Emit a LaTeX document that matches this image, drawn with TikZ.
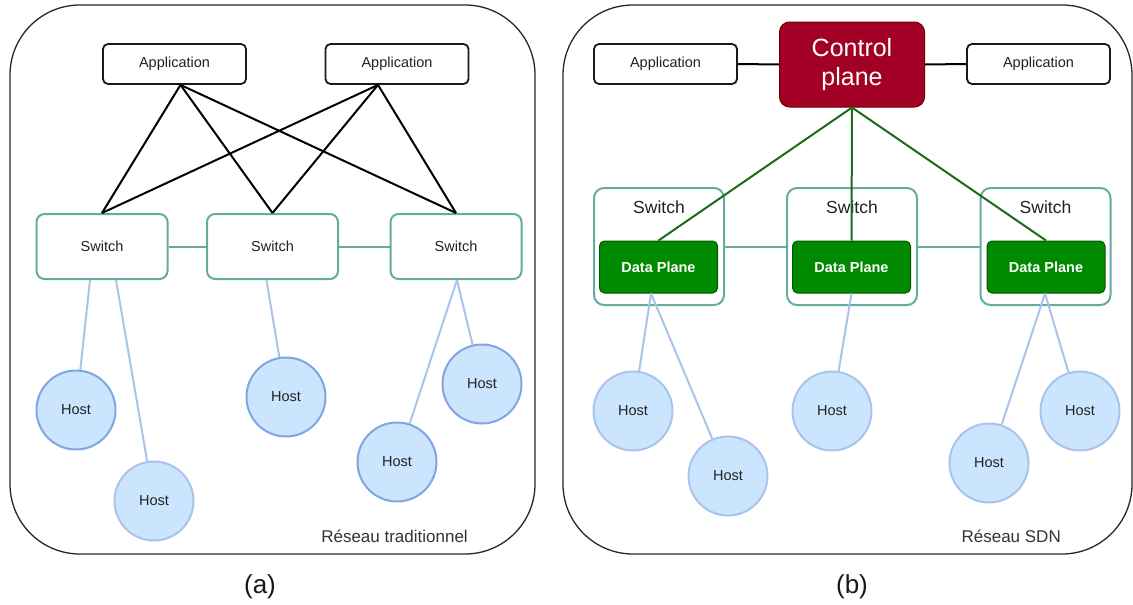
\documentclass[tikz,border=0pt]{standalone}
\usepackage{fontspec}
\setmainfont{Liberation Sans}
\definecolor{swteal}{HTML}{67AB9F}
\definecolor{hostfill}{HTML}{CCE5FF}
\definecolor{hostedge}{HTML}{7EA6E0}
\definecolor{hostlight}{HTML}{A9C4EB}
\definecolor{cpfill}{HTML}{A20025}
\definecolor{cpedge}{HTML}{6F0000}
\definecolor{dpfill}{HTML}{008A00}
\definecolor{dpedge}{HTML}{005700}
\definecolor{ctrlgreen}{HTML}{1B6B1B}
\definecolor{txt}{HTML}{222222}
\begin{document}
\begin{tikzpicture}[x=1pt,y=-1pt,
  every node/.style={inner sep=0pt, text=txt},
  small/.style={font=\fontsize{14.5}{17}\selectfont},
  frame/.style={draw=black!85, line width=1.3pt, rounded corners=70pt},
  app/.style={small, draw=black!90, line width=1.8pt, rounded corners=5pt, fill=white,
    minimum width=143pt, minimum height=40pt},
  sw/.style={small, draw=swteal, line width=2pt, rounded corners=8pt, fill=white,
    minimum width=131pt, minimum height=65pt},
  swbox/.style={draw=swteal, line width=2pt, rounded corners=10pt, fill=white,
    minimum width=130pt, minimum height=117pt},
  swtitle/.style={font=\fontsize{17.5}{20}\selectfont},
  dp/.style={font=\fontsize{14.5}{17}\selectfont\bfseries, text=white, draw=dpedge, line width=1pt,
    rounded corners=5pt, fill=dpfill, minimum width=118pt, minimum height=52pt},
  cp/.style={font=\fontsize{25}{29}\selectfont, text=white, align=center, draw=cpedge, line width=1pt,
    rounded corners=10pt, fill=cpfill, minimum width=145pt, minimum height=85pt},
  host/.style={small, circle, draw=hostedge, line width=2pt, fill=hostfill, minimum size=79pt},
  hostpale/.style={host, draw=hostlight},
  applink/.style={draw=black, line width=2pt},
  swlink/.style={draw=swteal, line width=2pt},
  hostlink/.style={draw=hostlight, line width=2pt},
  ctllink/.style={draw=ctrlgreen, line width=2pt},
  caption/.style={font=\fontsize{17}{20}\selectfont, text=black!80},
  sub/.style={font=\fontsize{26}{30}\selectfont, text=black!90}
]
\useasboundingbox (0,0) rectangle (1133,605);

% ---------------- traditional network ----------------
\draw[frame] (10,5) rectangle (535,554);

\node[app] (la1) at (174.5,64) {Application};
\node[app] (la2) at (397,64) {Application};

\node[sw] (ls1) at (102,246.5) {Switch};
\node[sw] (ls2) at (272.5,246.5) {Switch};
\node[sw] (ls3) at (456,246.5) {Switch};

\coordinate (la1b) at ([xshift=6pt]la1.south);
\coordinate (la2b) at ([xshift=-19pt]la2.south);
\foreach \s in {ls1,ls2,ls3}{
  \draw[applink] (la1b) -- (\s.north);
  \draw[applink] (la2b) -- (\s.north);
}
\draw[swlink] (ls1.east) -- (ls2.west);
\draw[swlink] (ls2.east) -- (ls3.west);

\node[host]     (lh1) at (76,410)  {Host};
\node[hostpale] (lh2) at (154,501) {Host};
\node[host]     (lh3) at (286,397) {Host};
\node[host]     (lh4) at (482,384) {Host};
\node[host]     (lh5) at (397,462) {Host};

\coordinate (ls1a) at ([xshift=-12pt]ls1.south);
\coordinate (ls1b) at ([xshift=14pt]ls1.south);
\coordinate (ls2a) at ([xshift=-6pt]ls2.south);
\coordinate (ls3a) at ([xshift=1pt]ls3.south);
\draw[hostlink] (ls1a) -- (lh1);
\draw[hostlink] (ls1b) -- (lh2);
\draw[hostlink] (ls2a) -- (lh3);
\draw[hostlink] (ls3a) -- (lh5);
\draw[hostlink] (ls3a) -- (lh4);

\node[caption, anchor=east] (lcap) at (468,536) {Réseau traditionnel};
\node[sub] (suba) at (260,587) {(a)};

% ---------------- SDN network ----------------
\draw[frame] (563,5) rectangle (1132,554);

\node[app] (ra1) at (665.5,64) {Application};
\node[cp]  (cp)  at (852,64.5) {Control\\plane};
\node[app] (ra2) at (1038.5,64) {Application};
\draw[applink] (ra1.east) -- (cp.west);
\draw[applink] (cp.east) -- (ra2.west);

\node[swbox] (rs1) at (659,246.5) {};
\node[swbox] (rs2) at (852,246.5) {};
\node[swbox] (rs3) at (1045.5,246.5) {};
\draw[swlink] (rs1.east) -- (rs2.west);
\draw[swlink] (rs2.east) -- (rs3.west);
\foreach \s in {rs1,rs2,rs3}{
  \node[swtitle, anchor=center] (\s lab) at ([yshift=-20pt]\s.north) {Switch};
}

\node[dp] (dp1) at (658.5,267) {Data Plane};
\node[dp] (dp2) at (851.5,267) {Data Plane};
\node[dp] (dp3) at (1046,267) {Data Plane};

\foreach \d in {dp1,dp2,dp3}{
  \draw[ctllink] (cp.south) -- (\d.north);
}

\node[hostpale] (rh1) at (633,411)  {Host};
\node[hostpale] (rh2) at (728,476)  {Host};
\node[hostpale] (rh3) at (832,411)  {Host};
\node[hostpale] (rh4) at (1080,411) {Host};
\node[hostpale] (rh5) at (989,463)  {Host};

\coordinate (dp1a) at ([xshift=-7.5pt]dp1.south);
\coordinate (dp2a) at (dp2.south);
\coordinate (dp3a) at ([xshift=-1pt]dp3.south);
\draw[hostlink] (dp1a) -- (rh1);
\draw[hostlink] (dp1a) -- (rh2);
\draw[hostlink] (dp2a) -- (rh3);
\draw[hostlink] (dp3a) -- (rh5);
\draw[hostlink] (dp3a) -- (rh4);

\node[caption, anchor=east] (rcap) at (1061,536) {Réseau SDN};
\node[sub] (subb) at (852,587) {(b)};
\end{tikzpicture}
\end{document}
